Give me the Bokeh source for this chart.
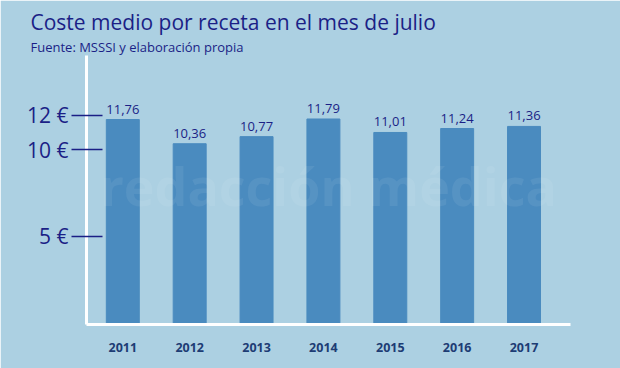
from bokeh.plotting import figure
from bokeh.models import Range1d, FixedTicker, Label, ColumnDataSource, Title
from bokeh.core.properties import value
from bokeh.embed import file_html
from bokeh.resources import INLINE

years = [2011, 2012, 2013, 2014, 2015, 2016, 2017]
costs = [11.76, 10.36, 10.77, 11.79, 11.01, 11.24, 11.36]
y_ticks = [5, 10, 12]
y_tick_labels = ["5 €", "10 €", "12 €"]
title_text = "Coste medio por receta en el mes de julio"
subtitle_text = "Fuente: MSSSI y elaboración propia"
watermark_text = "redacción médica"

BG = "#acd0e2"
BAR = "#4a8bbf"
NAVY = "#1b1f86"
YEARC = "#1d3c74"
FONT = "Open Sans"

src = ColumnDataSource(dict(
    x=years, top=costs,
    lab=[f"{v:.2f}".replace(".", ",") for v in costs],
))

p = figure(width=620, height=368, output_backend="svg", toolbar_location=None,
           x_range=Range1d(2010.457, 2017.695), y_range=Range1d(-0.09, 15.46),
           min_border_left=86, min_border_right=50, min_border_top=55,
           min_border_bottom=44)
p.background_fill_color = BG
p.border_fill_color = BG
p.outline_line_color = BG
p.outline_line_width = 2
p.grid.visible = False

p.vbar(x="x", top="top", bottom=0, width=0.493, source=src, color=BAR)
p.text(x="x", y="top", text="lab", source=src, text_align="center",
       text_baseline="bottom", y_offset=-6, text_font=value(FONT),
       text_font_size="13px", text_color=NAVY)

wm = Label(x=242, y=139, x_units="screen", y_units="screen", text=watermark_text,
           text_font=FONT, text_font_style="bold", text_font_size="52px",
           text_color="white", text_alpha=0.07, text_baseline="middle",
           text_align="center")
p.add_layout(wm)

xa = p.xaxis[0]
xa.ticker = FixedTicker(ticks=years)
xa.major_tick_line_color = None
xa.minor_tick_line_color = None
xa.axis_line_color = "white"
xa.axis_line_width = 3
xa.major_label_text_font = FONT
xa.major_label_text_font_style = "bold"
xa.major_label_text_font_size = "12.5px"
xa.major_label_text_color = YEARC
xa.major_label_standoff = 12

ya = p.yaxis[0]
ya.ticker = FixedTicker(ticks=y_ticks)
ya.major_label_overrides = {t: l for t, l in zip(y_ticks, y_tick_labels)}
ya.minor_tick_line_color = None
ya.axis_line_color = "white"
ya.axis_line_width = 3
ya.major_tick_line_color = NAVY
ya.major_tick_line_width = 1.3
ya.major_tick_out = 15
ya.major_tick_in = 16
ya.major_label_standoff = 3
ya.major_label_text_font = FONT
ya.major_label_text_font_size = "21px"
ya.major_label_text_color = NAVY

p.add_layout(Title(text=subtitle_text, align="left", offset=-56, standoff=0,
                   text_font=FONT, text_font_size="13px", text_color=NAVY,
                   text_font_style="normal"), "above")
p.add_layout(Title(text=title_text, align="left", offset=-56, standoff=0,
                   text_font=FONT, text_font_size="21px", text_color=NAVY,
                   text_font_style="normal"), "above")

html = file_html(p, INLINE)
html = html.replace("<body>", f'<body style="background:{BG}">', 1)
open("out.html", "w").write(html)
